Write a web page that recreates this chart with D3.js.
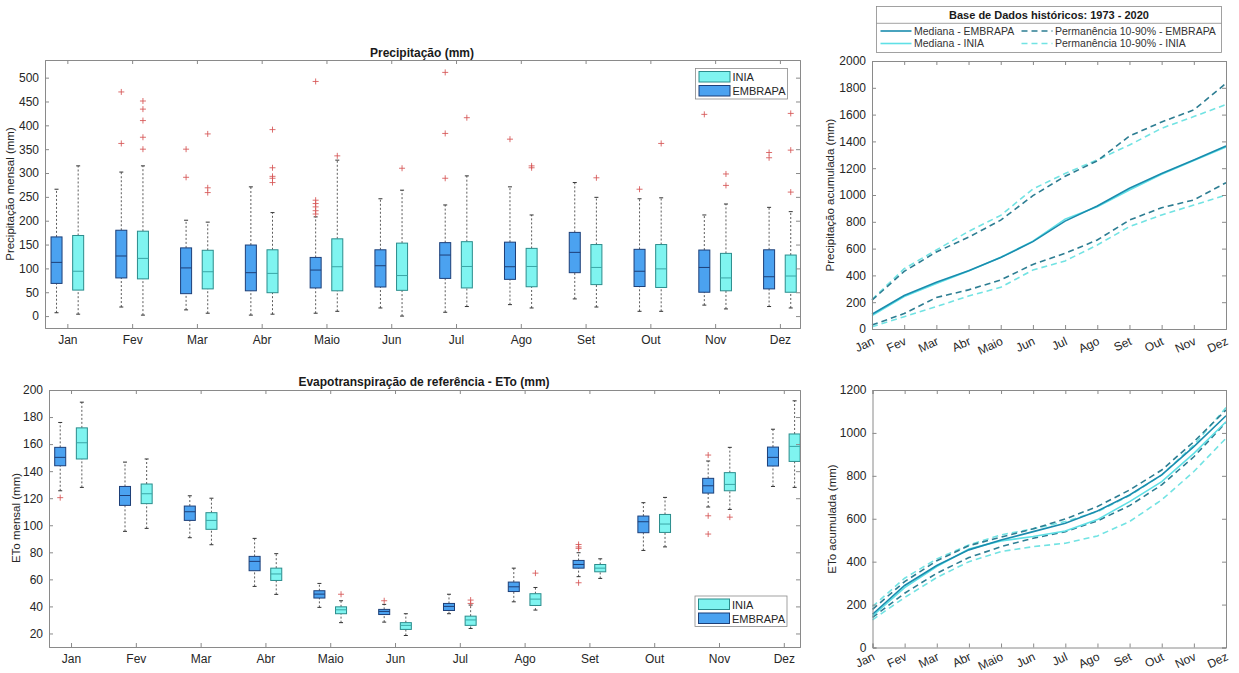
<!DOCTYPE html>
<html>
<head>
  <meta charset="UTF-8">
  <style>
    body {
      margin: 0;
      background-color: #ffffff;
      font-family: "Liberation Sans", Arial, sans-serif;
    }
    svg {
      display: block;
    }
    .tick text {
      fill: #262626;
      font-size: 12px;
    }
    .tick line, .domain {
      stroke: #8a8a8a;
    }
  </style>
</head>
<body>

<svg id="chart" width="1239" height="673"></svg>

<script src="https://d3js.org/d3.v7.min.js"></script>

<script>
const months = ["Jan", "Fev", "Mar", "Abr", "Maio", "Jun", "Jul", "Ago", "Set", "Out", "Nov", "Dez"];

// monthly precipitation: [whisker low, q1, median, q3, whisker high]
const precEmbrapa = [
  [7, 68.5, 112.6, 166, 266], [19, 80, 126, 180, 302], [13, 47, 101, 143, 201],
  [2, 53, 91, 149, 271], [6, 59, 96.5, 123, 208], [17, 61, 105.6, 139, 246],
  [8, 79, 128, 154, 233], [24, 77, 103.5, 155, 271], [36, 91, 133.6, 175.5, 280],
  [10, 62, 94, 140, 246], [23, 50, 102, 138.5, 212], [20, 57, 82.5, 139, 228]
];
const precEmbrapaOut = [
  [], [362, 470], [291, 350], [], [214, 221, 229, 236, 243, 492], [],
  [289, 383, 511], [371], [], [266], [423], [332, 343]
];
const precInia = [
  [4, 54.5, 94, 169, 315], [2, 78, 121, 178, 315], [6, 57, 93, 138, 197],
  [4, 49, 89.5, 139, 217], [10, 53, 103.5, 162, 327], [0, 54, 85, 153, 264],
  [20, 59, 104, 156, 294], [17, 61.5, 104, 142, 212], [19, 66, 102, 150, 249],
  [10, 60, 99, 150, 248], [15, 53, 80, 131.5, 235], [17, 50, 84, 128, 219]
];
const precIniaOut = [
  [], [350, 375, 410, 434, 451], [259, 269, 382], [280, 289, 293, 311, 391], [336], [310],
  [416], [311, 315], [290], [362], [274, 298], [260, 348, 425]
];

// monthly ETo
const etoEmbrapa = [
  [125.5, 144, 150.2, 157.6, 176], [95.5, 114.7, 122, 128.7, 146.7], [90.8, 103.6, 110, 114.2, 121.8],
  [54.8, 66.4, 73.3, 77, 90.3], [39.3, 46.2, 49.1, 51.6, 57], [28.4, 34, 36.3, 37.8, 41.5],
  [34.6, 37, 40, 42.2, 49], [43.4, 51, 54.5, 58, 68.3], [62, 68.3, 71, 74, 79.7],
  [81.4, 94.5, 102.6, 106.8, 116.7], [113.5, 123.8, 129.2, 134.7, 147.5], [128.7, 143.8, 150.2, 157.8, 171]
];
const etoEmbrapaOut = [
  [120.4], [], [], [], [], [44.2], [], [], [57.5, 82.9, 84, 85.8], [], [93.5, 107, 151.9], []
];
const etoInia = [
  [128, 149, 161, 172, 191], [97.7, 116, 123.3, 130.5, 149], [85.6, 97, 103.6, 109.3, 120],
  [48.9, 59.2, 64, 68.3, 79], [28, 34.6, 37.5, 39.7, 44.2], [18.5, 23, 26, 28, 34.6],
  [23.7, 26, 30, 32.8, 41], [37.3, 40.7, 45.4, 49.4, 54], [60.7, 65.6, 68.3, 71, 75.2],
  [84, 94.7, 100.9, 108, 120.6], [111.7, 125.5, 130.2, 138.9, 157.6], [128, 147.2, 158.3, 167.5, 192]
];
const etoIniaOut = [
  [], [], [], [], [49], [], [42.2, 44.7], [64.6], [], [], [106], []
];

// accumulated precipitation
const precAccMedEmbrapa = [110, 250, 348, 435, 533, 652, 805, 918, 1050, 1160, 1262, 1366];
const precAccMedInia = [100, 243, 340, 432, 535, 656, 820, 912, 1037, 1155, 1257, 1358];
const precAccUpEmbrapa = [215, 430, 575, 685, 812, 995, 1140, 1255, 1440, 1545, 1635, 1833];
const precAccUpInia = [220, 450, 590, 728, 848, 1045, 1160, 1262, 1373, 1498, 1585, 1675];
const precAccLoEmbrapa = [30, 115, 235, 292, 366, 482, 565, 664, 813, 905, 963, 1092];
const precAccLoInia = [17, 92, 167, 246, 311, 440, 508, 627, 764, 851, 925, 1000];

// accumulated ETo
const etoAccMedEmbrapa = [155, 289, 382, 455, 501, 540, 579, 636, 711, 804, 936, 1080];
const etoAccMedInia = [147, 279, 377, 459, 497, 517, 543, 596, 680, 773, 905, 1052];
const etoAccUpEmbrapa = [178, 307, 404, 475, 514, 553, 599, 657, 734, 827, 959, 1107];
const etoAccUpInia = [191, 323, 413, 478, 525, 553, 587, 633, 708, 804, 944, 1118];
const etoAccLoEmbrapa = [140, 253, 346, 419, 470, 509, 540, 590, 661, 758, 889, 1049];
const etoAccLoInia = [129, 233, 326, 400, 447, 470, 486, 520, 587, 688, 820, 975];

const precTicks = d3.range(0, 501, 50);
const etoTicks = d3.range(20, 201, 20);
const precAccTicks = d3.range(0, 2001, 200);
const etoAccTicks = d3.range(0, 1201, 200);

const colEmbFill = "#4ba2f0", colEmbEdge = "#1d3f78";
const colIniaFill = "#7ff4f0", colIniaEdge = "#2b8c8c";
const colEmbLine = "#1a8cae", colEmbDash = "#2d7d92";
const colIniaLine = "#5fe0e6", colIniaDash = "#72e3e3";

let svg = d3.select("#chart");

// draws the frame of a MATLAB style axes (box on, ticks inside)
function frame(g, x, y, xTicks, yTicks, showXLabels) {
  let [x0, x1] = x.range();
  let [y0, y1] = y.range();
  g.append("g").attr("transform", `translate(0,${y0})`)
    .call(d3.axisBottom(x).tickValues(xTicks).tickSize(-4).tickPadding(7)
      .tickFormat(showXLabels ? (d => months[d - 1]) : ""));
  g.append("g").attr("transform", `translate(0,${y1})`)
    .call(d3.axisTop(x).tickValues(xTicks).tickSize(-4).tickFormat(""));
  g.append("g").attr("transform", `translate(${x0},0)`)
    .call(d3.axisLeft(y).tickValues(yTicks).tickSize(-4).tickPadding(6).tickFormat(d3.format("d")));
  g.append("g").attr("transform", `translate(${x1},0)`)
    .call(d3.axisRight(y).tickValues(yTicks).tickSize(-4).tickFormat(""));
  g.selectAll(".domain").attr("stroke", "#8a8a8a");
}

function boxes(g, x, y, stats, outs, offset, fill, edge, median) {
  let w = 0.17;
  let grp = g.append("g");
  stats.forEach((s, i) => {
    let cx = x(i + 1 + offset);
    let bw = x(w) - x(0);
    // whiskers
    grp.append("line").attr("x1", cx).attr("x2", cx).attr("y1", y(s[0])).attr("y2", y(s[1]))
      .attr("stroke", "#333").attr("stroke-width", 0.8).attr("stroke-dasharray", "2,2");
    grp.append("line").attr("x1", cx).attr("x2", cx).attr("y1", y(s[3])).attr("y2", y(s[4]))
      .attr("stroke", "#333").attr("stroke-width", 0.8).attr("stroke-dasharray", "2,2");
    [s[0], s[4]].forEach(v => {
      grp.append("line").attr("x1", cx - 2).attr("x2", cx + 2).attr("y1", y(v)).attr("y2", y(v))
        .attr("stroke", "#333").attr("stroke-width", 1);
    });
    grp.append("rect")
      .attr("x", cx - bw / 2).attr("width", bw)
      .attr("y", y(s[3])).attr("height", y(s[1]) - y(s[3]))
      .attr("fill", fill).attr("stroke", edge).attr("stroke-width", 1);
    grp.append("line").attr("x1", cx - bw / 2).attr("x2", cx + bw / 2)
      .attr("y1", y(s[2])).attr("y2", y(s[2]))
      .attr("stroke", median).attr("stroke-width", 1);
    outs[i].forEach(v => {
      grp.append("path")
        .attr("d", `M${cx - 3},${y(v)}h6M${cx},${y(v) - 3}v6`)
        .attr("stroke", "#d65555").attr("stroke-opacity", 0.85).attr("stroke-width", 1);
    });
  });
}

function boxLegend(g, lx, ly) {
  g.append("rect").attr("x", lx).attr("y", ly).attr("width", 92).attr("height", 30.5)
    .attr("fill", "#fff").attr("stroke", "#8a8a8a").attr("stroke-width", 0.8);
  [["INIA", colIniaFill, colIniaEdge], ["EMBRAPA", colEmbFill, colEmbEdge]].forEach((e, i) => {
    g.append("rect").attr("x", lx + 3.5).attr("y", ly + 3 + i * 14).attr("width", 31).attr("height", 10.5)
      .attr("fill", e[1]).attr("stroke", e[2]).attr("stroke-width", 1);
    g.append("text").attr("x", lx + 37).attr("y", ly + 12.5 + i * 14)
      .attr("font-size", "11px").attr("fill", "#262626").text(e[0]);
  });
}

function lines(g, x, y, series) {
  let line = d3.line().x((d, i) => x(i + 1)).y(d => y(d));
  series.forEach(s => {
    g.append("path").datum(s.values)
      .attr("d", line).attr("fill", "none")
      .attr("stroke", s.color).attr("stroke-width", 1.6)
      .attr("stroke-dasharray", s.dash ? "6,4" : null);
  });
}

function rotatedMonths(g, x, y0, dy) {
  months.forEach((m, i) => {
    g.append("text")
      .attr("transform", `translate(${x(i + 1) + 3},${y0 + dy}) rotate(-25)`)
      .attr("text-anchor", "end")
      .attr("font-size", "12px").attr("fill", "#262626")
      .text(m);
  });
}

function yLabel(g, cx, cy, text) {
  g.append("text").attr("transform", `translate(${cx},${cy}) rotate(-90)`)
    .attr("text-anchor", "middle").attr("font-size", "11.5px").attr("fill", "#262626")
    .text(text);
}

let monthIdx = d3.range(1, 13);

// top left: monthly precipitation
let xP = d3.scaleLinear().domain([0.655, 12.31]).range([45, 800]);
let yP = d3.scaleLinear().domain([-25, 537]).range([328, 60]);
let gP = svg.append("g");
boxes(gP, xP, yP, precEmbrapa, precEmbrapaOut, -0.167, colEmbFill, colEmbEdge, colEmbEdge);
boxes(gP, xP, yP, precInia, precIniaOut, 0.167, colIniaFill, colIniaEdge, "#3aa6a6");
frame(gP, xP, yP, monthIdx, precTicks, true);
boxLegend(gP, 695.5, 68.5);
gP.append("text").attr("x", 422).attr("y", 57).attr("text-anchor", "middle")
  .attr("font-weight", "bold").attr("font-size", "12px").attr("fill", "#1a1a1a")
  .text("Precipitação (mm)");
yLabel(gP, 14, 194, "Precipitação mensal (mm)");

// bottom left: monthly ETo
let xE = d3.scaleLinear().domain([0.66, 12.25]).range([49, 800]);
let yE = d3.scaleLinear().domain([10, 200]).range([647, 390]);
let gE = svg.append("g");
boxes(gE, xE, yE, etoEmbrapa, etoEmbrapaOut, -0.167, colEmbFill, colEmbEdge, colEmbEdge);
boxes(gE, xE, yE, etoInia, etoIniaOut, 0.167, colIniaFill, colIniaEdge, "#3aa6a6");
frame(gE, xE, yE, monthIdx, etoTicks, true);
boxLegend(gE, 695, 596);
gE.append("text").attr("x", 424).attr("y", 386).attr("text-anchor", "middle")
  .attr("font-weight", "bold").attr("font-size", "12px").attr("fill", "#1a1a1a")
  .text("Evapotranspiração de referência - ETo (mm)");
yLabel(gE, 20, 518, "ETo mensal (mm)");

// top right: accumulated precipitation
let xA = d3.scaleLinear().domain([1, 12]).range([872, 1226]);
let yA = d3.scaleLinear().domain([0, 2000]).range([329, 61]);
let gA = svg.append("g");
lines(gA, xA, yA, [
  { values: precAccUpInia, color: colIniaDash, dash: true },
  { values: precAccLoInia, color: colIniaDash, dash: true },
  { values: precAccUpEmbrapa, color: colEmbDash, dash: true },
  { values: precAccLoEmbrapa, color: colEmbDash, dash: true },
  { values: precAccMedInia, color: colIniaLine },
  { values: precAccMedEmbrapa, color: colEmbLine }
]);
frame(gA, xA, yA, monthIdx, precAccTicks, false);
rotatedMonths(gA, xA, 329, 15);
yLabel(gA, 834, 195, "Precipitação acumulada (mm)");

// bottom right: accumulated ETo
let xB = d3.scaleLinear().domain([1, 12]).range([872.5, 1226]);
let yB = d3.scaleLinear().domain([0, 1200]).range([647.5, 390]);
let gB = svg.append("g");
lines(gB, xB, yB, [
  { values: etoAccUpInia, color: colIniaDash, dash: true },
  { values: etoAccLoInia, color: colIniaDash, dash: true },
  { values: etoAccUpEmbrapa, color: colEmbDash, dash: true },
  { values: etoAccLoEmbrapa, color: colEmbDash, dash: true },
  { values: etoAccMedInia, color: colIniaLine },
  { values: etoAccMedEmbrapa, color: colEmbLine }
]);
frame(gB, xB, yB, monthIdx, etoAccTicks, false);
rotatedMonths(gB, xB, 647.5, 12);
yLabel(gB, 836, 519, "ETo acumulada (mm)");

// shared legend of the accumulated charts
let lg = svg.append("g");
lg.append("rect").attr("x", 876.5).attr("y", 6.5).attr("width", 345).attr("height", 46)
  .attr("fill", "#fff").attr("stroke", "#8a8a8a").attr("stroke-width", 0.8);
lg.append("line").attr("x1", 876.5).attr("x2", 1221.5).attr("y1", 23.3).attr("y2", 23.3)
  .attr("stroke", "#8a8a8a").attr("stroke-width", 0.8);
lg.append("text").attr("x", 1049).attr("y", 19).attr("text-anchor", "middle")
  .attr("font-weight", "bold").attr("font-size", "11px").attr("fill", "#1a1a1a")
  .text("Base de Dados históricos: 1973 - 2020");
[
  ["Mediana - EMBRAPA", colEmbLine, false, 0, 0],
  ["Permanência 10-90% - EMBRAPA", colEmbDash, true, 1, 0],
  ["Mediana - INIA", colIniaLine, false, 0, 1],
  ["Permanência 10-90% - INIA", colIniaDash, true, 1, 1]
].forEach(e => {
  let lx = e[3] === 0 ? 880.5 : 1021.5;
  let ly = 31 + e[4] * 12.5;
  lg.append("line").attr("x1", lx).attr("x2", lx + 31).attr("y1", ly).attr("y2", ly)
    .attr("stroke", e[1]).attr("stroke-width", 1.6)
    .attr("stroke-dasharray", e[2] ? "6,4" : null);
  lg.append("text").attr("x", lx + 33.5).attr("y", ly + 3.5)
    .attr("font-size", "10.5px").attr("fill", "#333").text(e[0]);
});
</script>

</body>
</html>
